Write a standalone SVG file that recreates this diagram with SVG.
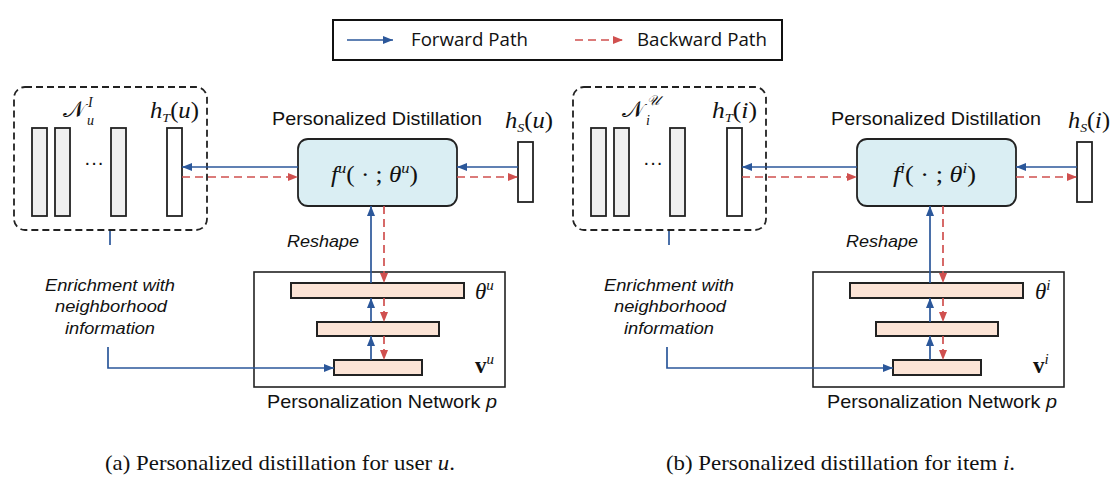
<svg xmlns="http://www.w3.org/2000/svg" width="1112" height="493" viewBox="0 0 1112 493">
<defs>
<marker id="ab" viewBox="0 0 10 8" refX="10" refY="4" markerWidth="10" markerHeight="8" markerUnits="userSpaceOnUse" orient="auto"><path d="M0,0 L10,4 L0,8 z" fill="#2b579a"/></marker>
<marker id="ar" viewBox="0 0 10 8" refX="10" refY="4" markerWidth="10" markerHeight="8" markerUnits="userSpaceOnUse" orient="auto"><path d="M0,0 L10,4 L0,8 z" fill="#d0504f"/></marker>
<style>
.fw{stroke:#2b579a;stroke-width:1.7;fill:none;marker-end:url(#ab)}
.fwl{stroke:#2b579a;stroke-width:1.7;fill:none}
.bw{stroke:#d0504f;stroke-width:1.7;fill:none;stroke-dasharray:8 5;marker-end:url(#ar)}
.dash{fill:none;stroke:#222;stroke-width:1.8;stroke-dasharray:7 4}
.gbar{fill:#efefef;stroke:#222;stroke-width:1.8}
.wbar{fill:#fff;stroke:#222;stroke-width:1.8}
.fbox{fill:#daeef3;stroke:#222;stroke-width:1.8}
.pbox{fill:none;stroke:#222;stroke-width:1.6}
.sbar{fill:#fce4d6;stroke:#222;stroke-width:2}
.sans{font-family:"Liberation Sans",Arial,sans-serif;fill:#111}
.leg{font-family:"Open Sans","Noto Sans",sans-serif;font-size:18px;fill:#111}
.it{font-style:italic}
.math{font-family:"Liberation Serif","Times New Roman",serif;font-size:23px;fill:#111}
.sm{font-family:"Liberation Serif","Times New Roman",serif;font-size:14px;font-style:italic;fill:#111}
.cap{font-family:"Liberation Serif","Times New Roman",serif;font-size:21px;fill:#111}
</style>
</defs>

<g id="legend">
<rect x="333" y="20" width="449" height="40" fill="#fff" stroke="#111" stroke-width="2"/>
<line x1="347" y1="40" x2="393" y2="40" class="fw"/>
<text x="411" y="46" class="leg" textLength="117" lengthAdjust="spacingAndGlyphs">Forward Path</text>
<line x1="575" y1="40" x2="623" y2="40" class="bw"/>
<text x="637" y="46" class="leg" textLength="130" lengthAdjust="spacingAndGlyphs">Backward Path</text>
</g>

<!-- Panel (a) -->
<g id="a-neighbors">
<rect x="14" y="87" width="193" height="143" rx="11" class="dash"/>
<rect x="32" y="128" width="15" height="88" class="gbar"/>
<rect x="55" y="128" width="15" height="88" class="gbar"/>
<text x="94" y="169" class="sans" font-size="20" text-anchor="middle">···</text>
<rect x="111" y="128" width="15" height="88" class="gbar"/>
<text x="63" y="117" class="math" font-size="19">𝒩</text>
<text x="88" y="107" class="sm" font-size="13">I</text>
<text x="87" y="125" class="sm">u</text>
</g>
<g id="a-hT">
<rect x="167" y="128" width="15" height="88" class="wbar"/>
<text x="150" y="118" class="math" textLength="49" lengthAdjust="spacingAndGlyphs"><tspan font-style="italic">h</tspan><tspan dy="4" font-size="13" font-style="italic">T</tspan><tspan dy="-4">(</tspan><tspan font-style="italic">u</tspan>)</text>
</g>
<g id="a-distill">
<text x="272" y="125" class="sans" font-size="19" textLength="210" lengthAdjust="spacingAndGlyphs">Personalized Distillation</text>
<rect x="298" y="139" width="159" height="67" rx="10" class="fbox"/>
<text x="331" y="182" class="math" textLength="87" lengthAdjust="spacingAndGlyphs"><tspan font-style="italic">f</tspan><tspan dy="-9" font-size="15" font-style="italic">u</tspan><tspan dy="9">( · ; </tspan><tspan font-style="italic">θ</tspan><tspan dy="-9" font-size="15" font-style="italic">u</tspan><tspan dy="9">)</tspan></text>
</g>
<g id="a-hS">
<rect x="518" y="142" width="15" height="60" class="wbar"/>
<text x="505" y="128" class="math" textLength="48" lengthAdjust="spacingAndGlyphs"><tspan font-style="italic">h</tspan><tspan dy="4" font-size="13" font-style="italic">S</tspan><tspan dy="-4">(</tspan><tspan font-style="italic">u</tspan>)</text>
</g>
<g id="a-reshape">
<text x="287" y="247" class="sans it" font-size="17" textLength="72" lengthAdjust="spacingAndGlyphs">Reshape</text>
</g>
<g id="a-enrich">
<text x="110" y="291" class="sans it" font-size="17" text-anchor="middle" textLength="130" lengthAdjust="spacingAndGlyphs">Enrichment with</text>
<text x="111" y="312" class="sans it" font-size="17" text-anchor="middle" textLength="112" lengthAdjust="spacingAndGlyphs">neighborhood</text>
<text x="110" y="334" class="sans it" font-size="17" text-anchor="middle" textLength="90" lengthAdjust="spacingAndGlyphs">information</text>
</g>
<g id="a-pnet">
<rect x="254" y="272" width="251" height="115" class="pbox"/>
<rect x="291" y="283" width="173" height="15" class="sbar"/>
<rect x="317" y="322" width="122" height="14" class="sbar"/>
<rect x="334" y="360" width="88" height="15" class="sbar"/>
<text x="475" y="299" class="math"><tspan font-style="italic">θ</tspan><tspan dy="-9" font-size="15" font-style="italic">u</tspan></text>
<text x="475" y="373" class="math"><tspan font-weight="bold">v</tspan><tspan dy="-9" font-size="15" font-style="italic">u</tspan></text>
<text x="267" y="408" class="sans" font-size="19" textLength="230" lengthAdjust="spacingAndGlyphs">Personalization Network <tspan font-style="italic">p</tspan></text>
</g>
<g id="a-caption">
<text x="105" y="470" class="cap" textLength="350" lengthAdjust="spacingAndGlyphs">(a) Personalized distillation for user <tspan font-style="italic">u</tspan>.</text>
</g>

<!-- Panel (b) -->
<g id="b-neighbors">
<rect x="573" y="87" width="193" height="143" rx="11" class="dash"/>
<rect x="591" y="128" width="15" height="88" class="gbar"/>
<rect x="614" y="128" width="15" height="88" class="gbar"/>
<text x="653" y="169" class="sans" font-size="20" text-anchor="middle">···</text>
<rect x="670" y="128" width="15" height="88" class="gbar"/>
<text x="622" y="117" class="math" font-size="19">𝒩</text>
<text x="647" y="105" class="sm" font-size="15" font-style="normal">𝒰</text>
<text x="646" y="125" class="sm">i</text>
</g>
<g id="b-hT">
<rect x="727" y="128" width="15" height="88" class="wbar"/>
<text x="712" y="118" class="math" textLength="45" lengthAdjust="spacingAndGlyphs"><tspan font-style="italic">h</tspan><tspan dy="4" font-size="13" font-style="italic">T</tspan><tspan dy="-4">(</tspan><tspan font-style="italic">i</tspan>)</text>
</g>
<g id="b-distill">
<text x="831" y="125" class="sans" font-size="19" textLength="210" lengthAdjust="spacingAndGlyphs">Personalized Distillation</text>
<rect x="857" y="139" width="159" height="67" rx="10" class="fbox"/>
<text x="893" y="182" class="math" textLength="83" lengthAdjust="spacingAndGlyphs"><tspan font-style="italic">f</tspan><tspan dy="-9" font-size="15" font-style="italic">i</tspan><tspan dy="9">( · ; </tspan><tspan font-style="italic">θ</tspan><tspan dy="-9" font-size="15" font-style="italic">i</tspan><tspan dy="9">)</tspan></text>
</g>
<g id="b-hS">
<rect x="1077" y="142" width="15" height="60" class="wbar"/>
<text x="1068" y="128" class="math" textLength="42" lengthAdjust="spacingAndGlyphs"><tspan font-style="italic">h</tspan><tspan dy="4" font-size="13" font-style="italic">S</tspan><tspan dy="-4">(</tspan><tspan font-style="italic">i</tspan>)</text>
</g>
<g id="b-reshape">
<text x="846" y="247" class="sans it" font-size="17" textLength="72" lengthAdjust="spacingAndGlyphs">Reshape</text>
</g>
<g id="b-enrich">
<text x="669" y="291" class="sans it" font-size="17" text-anchor="middle" textLength="130" lengthAdjust="spacingAndGlyphs">Enrichment with</text>
<text x="670" y="312" class="sans it" font-size="17" text-anchor="middle" textLength="112" lengthAdjust="spacingAndGlyphs">neighborhood</text>
<text x="669" y="334" class="sans it" font-size="17" text-anchor="middle" textLength="90" lengthAdjust="spacingAndGlyphs">information</text>
</g>
<g id="b-pnet">
<rect x="813" y="272" width="251" height="115" class="pbox"/>
<rect x="850" y="283" width="173" height="15" class="sbar"/>
<rect x="876" y="322" width="122" height="14" class="sbar"/>
<rect x="893" y="360" width="88" height="15" class="sbar"/>
<text x="1035" y="299" class="math"><tspan font-style="italic">θ</tspan><tspan dy="-9" font-size="15" font-style="italic">i</tspan></text>
<text x="1033" y="373" class="math"><tspan font-weight="bold">v</tspan><tspan dy="-9" font-size="15" font-style="italic">i</tspan></text>
<text x="827" y="408" class="sans" font-size="19" textLength="230" lengthAdjust="spacingAndGlyphs">Personalization Network <tspan font-style="italic">p</tspan></text>
</g>
<g id="b-caption">
<text x="666" y="470" class="cap" textLength="349" lengthAdjust="spacingAndGlyphs">(b) Personalized distillation for item <tspan font-style="italic">i</tspan>.</text>
</g>

<g id="connectors">
<!-- panel a -->
<line x1="298" y1="167" x2="182" y2="167" class="fw"/>
<line x1="182" y1="177" x2="298" y2="177" class="bw"/>
<line x1="518" y1="167" x2="457" y2="167" class="fw"/>
<line x1="457" y1="177" x2="518" y2="177" class="bw"/>
<line x1="371" y1="283" x2="371" y2="206" class="fw"/>
<line x1="384" y1="206" x2="384" y2="283" class="bw"/>
<line x1="371" y1="322" x2="371" y2="298" class="fw"/>
<line x1="371" y1="360" x2="371" y2="336" class="fw"/>
<line x1="384" y1="298" x2="384" y2="322" class="bw"/>
<line x1="384" y1="336" x2="384" y2="360" class="bw"/>
<line x1="110" y1="231" x2="110" y2="245" class="fwl"/>
<path d="M108,347 V368 H334" class="fw"/>
<!-- panel b -->
<line x1="857" y1="167" x2="742" y2="167" class="fw"/>
<line x1="742" y1="177" x2="857" y2="177" class="bw"/>
<line x1="1077" y1="167" x2="1016" y2="167" class="fw"/>
<line x1="1016" y1="177" x2="1077" y2="177" class="bw"/>
<line x1="930" y1="283" x2="930" y2="206" class="fw"/>
<line x1="943" y1="206" x2="943" y2="283" class="bw"/>
<line x1="930" y1="322" x2="930" y2="298" class="fw"/>
<line x1="930" y1="360" x2="930" y2="336" class="fw"/>
<line x1="943" y1="298" x2="943" y2="322" class="bw"/>
<line x1="943" y1="336" x2="943" y2="360" class="bw"/>
<line x1="669" y1="231" x2="669" y2="245" class="fwl"/>
<path d="M667,347 V368 H893" class="fw"/>
</g>
</svg>
